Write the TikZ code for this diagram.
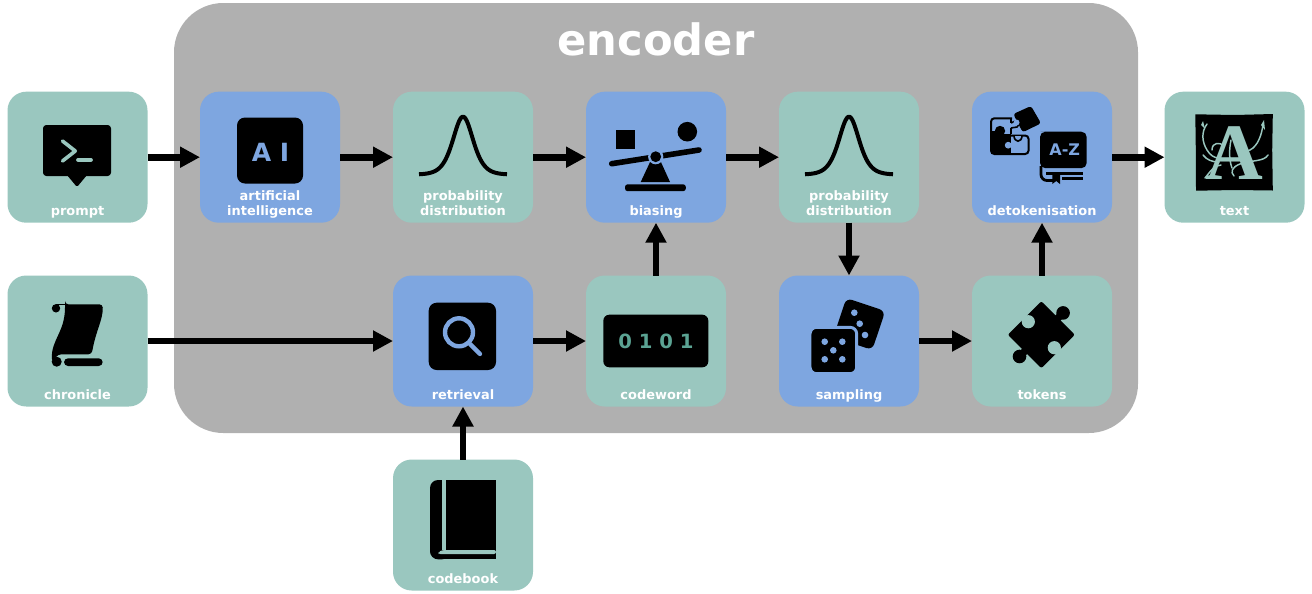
\documentclass[tikz,border=0pt]{standalone}
\usepackage{fontspec}
\setmainfont{DejaVu Sans}
\newfontfamily\serifA{Liberation Serif}
\usetikzlibrary{arrows.meta}
\definecolor{tealbox}{HTML}{9AC7BF}
\definecolor{bluebox}{HTML}{7EA6E0}
\definecolor{greybox}{HTML}{B0B0B0}
\definecolor{tealdark}{HTML}{5BA393}
\tikzset{
  basebox/.style={rectangle,rounded corners=14pt,minimum width=105pt,minimum height=98.25pt,inner sep=0pt,outer sep=0pt},
  tbox/.style={basebox,fill=tealbox},
  bbox/.style={basebox,fill=bluebox},
  lbl/.style={anchor=base,text=white,inner sep=0pt,outer sep=0pt,align=center,font=\fontsize{9.7pt}{11.25pt}\selectfont\bfseries},
  arr/.style={line width=5.1pt,-{Triangle[length=15pt,width=15pt]},black},
  ink/.style={fill=black,draw=none},
}
\begin{document}
\begin{tikzpicture}[x=0.75pt,y=-0.75pt]
\useasboundingbox (0,0) rectangle (1312,593);
% encoder
\node[rectangle,fill=greybox,rounded corners=37pt,minimum width=723pt,minimum height=322.5pt,inner sep=0pt] (encoder) at (656,218) {};
\node[anchor=base,text=white,inner sep=0pt,font=\fontsize{32.4pt}{36pt}\selectfont\bfseries] (encodertitle) at (656,55.5) {encoder};
% boxes
\node[tbox] (prompt) at (77.5,157.2) {};
\node[bbox] (ai) at (270,157.2) {};
\node[tbox] (probA) at (463,157.2) {};
\node[bbox] (biasing) at (656,157.2) {};
\node[tbox] (probB) at (849,157.2) {};
\node[bbox] (detok) at (1042,157.2) {};
\node[tbox] (text) at (1234.5,157.2) {};
\node[tbox] (chronicle) at (77.5,341) {};
\node[bbox] (retrieval) at (463,341) {};
\node[tbox] (codeword) at (656,341) {};
\node[bbox] (sampling) at (849,341) {};
\node[tbox] (tokens) at (1042,341) {};
\node[tbox] (codebook) at (463,525) {};
% labels
\node[lbl] (lprompt) at (77.5,215) {prompt};
\node[lbl] (lai) at (270,215) {artificial\\intelligence};
\node[lbl] (lprobA) at (463,215) {probability\\distribution};
\node[lbl] (lbiasing) at (656,215) {biasing};
\node[lbl] (lprobB) at (849,215) {probability\\distribution};
\node[lbl] (ldetok) at (1042,215) {detokenisation};
\node[lbl] (ltext) at (1234.5,215) {text};
\node[lbl] (lchronicle) at (77.5,399) {chronicle};
\node[lbl] (lretrieval) at (463,399) {retrieval};
\node[lbl] (lcodeword) at (656,399) {codeword};
\node[lbl] (lsampling) at (849,399) {sampling};
\node[lbl] (ltokens) at (1042,399) {tokens};
\node[lbl] (lcodebook) at (463,583) {codebook};
% connectors
\draw[arr] (prompt) -- (ai);
\draw[arr] (ai) -- (probA);
\draw[arr] (probA) -- (biasing);
\draw[arr] (biasing) -- (probB);
\draw[arr] (probB) -- (sampling);
\draw[arr] (sampling) -- (tokens);
\draw[arr] (tokens) -- (detok);
\draw[arr] (detok) -- (text);
\draw[arr] (chronicle) -- (retrieval);
\draw[arr] (retrieval) -- (codeword);
\draw[arr] (codeword) -- (biasing);
\draw[arr] (codebook) -- (retrieval);
% prompt icon
\fill[ink,rounded corners=2.5pt] (43,125) rectangle (111,176);
\fill[ink,rounded corners=1pt] (67,175) -- (87,175) -- (77,187) -- cycle;
\draw[tealbox,line width=2.7pt,line cap=round,line join=round] (62.5,141) -- (75.3,151) -- (62.5,161);
\draw[tealbox,line width=2.8pt,line cap=round] (78,159.8) -- (91,159.8);
% AI icon
\fill[ink,rounded corners=6pt] (237,117.5) rectangle (303,183.5);
\node[anchor=base,text=bluebox,inner sep=0pt,font=\fontsize{18.8pt}{20pt}\selectfont\bfseries] (aiicon) at (270.5,161) {A I};
% gaussians
\foreach \cx in {463,849}{
  \draw[line width=3pt,line join=round] plot[smooth,domain=-44:44,samples=60] ({\cx+\x},{174.6-58*(1/cosh(\x/13.5))^2});
}
% biasing icon
\fill[ink] (615.7,130) rectangle (635.3,149.3);
\fill[ink] (687.3,131.7) circle (9.8);
\draw[line width=4.2pt,line cap=round] (611.7,163.7) -- (699,150);
\fill[ink] (640.7,182) -- (670,182) -- (660,160) -- (651,160) -- cycle;
\fill[bluebox] (655.7,156.7) circle (7.6);
\fill[ink] (655.7,156.7) circle (5.4);
\fill[ink,rounded corners=2pt] (625,191.2) -- (625,184.3) -- (685.8,184.3) -- (685.8,191.2) -- cycle;
% retrieval icon
\fill[ink,rounded corners=6pt] (428.7,302.7) rectangle (496,370);
\draw[bluebox,line width=3.3pt] (459,332.3) circle (14);
\draw[bluebox,line width=3.2pt,line cap=round] (470,344) -- (480,354);
% codeword icon
\fill[ink,rounded corners=4.5pt] (603.3,314.7) rectangle (708.3,367.3);
\node[anchor=base,text=tealdark,inner sep=0pt,font=\fontsize{14.7pt}{16pt}\selectfont\bfseries] (digits) at (656,348.3) {0 1 0 1};
% sampling icon
\begin{scope}[rotate around={-18.5:(859.3,324)}]
\fill[ink,rounded corners=4.5pt] (838.8,303.5) rectangle (879.8,344.5);
\end{scope}
\fill[bluebox] (854.3,312.7) circle (3.3) (859.7,323.7) circle (3.3) (865,335) circle (3.3);
\draw[bluebox,fill=black,line width=2.2pt,rounded corners=5pt] (810,327.3) rectangle (856.7,373.7);
\fill[bluebox] (824.7,341.7) circle (3.3) (842.3,341.7) circle (3.3) (833.3,350.3) circle (3.3) (824.7,359.3) circle (3.3) (842.3,359.3) circle (3.3);
% tokens icon
\begin{scope}[shift={(1041.3,334.7)},rotate=45]
\fill[ink,rounded corners=1.5pt] (-23.7,-23.7) rectangle (23.7,23.7);
\fill[ink] (30.8,0) circle (6.8) (-30.8,0) circle (6.8);
\fill[ink] (22,-3.6) rectangle (27,3.6) (-27,-3.6) rectangle (-22,3.6);
\fill[tealbox] (0,-18.4) circle (6.6) (0,18.4) circle (6.6);
\fill[tealbox] (-3.5,-25) rectangle (3.5,-22) (-3.5,22) rectangle (3.5,25);
\end{scope}
% codebook icon
\fill[ink,rounded corners=6pt] (450,480) -- (430,480) -- (430,559.3) -- (450,559.3) -- cycle;
\fill[ink] (445,480) rectangle (496,559.3);
\fill[tealbox] (442.3,480) rectangle (446,550);
\fill[tealbox,rounded corners=1.5pt] (438.3,554) -- (438.3,552) -- (442.3,550) -- (496,550) -- (496,554) -- cycle;
% chronicle icon
\fill[ink,rounded corners=2.5pt] (65,304.3) -- (102.7,304.3) .. controls (103,320) and (96,330) .. (91.7,354.3) -- (58,354.3) -- (52,362) .. controls (51,340) and (65,332) .. (65,304.3) -- cycle;
\fill[ink] (56,308.3) circle (4.2);
\draw[line width=0.9pt] (56,304.6) -- (66,304.6);
\fill[ink] (56.7,361.7) circle (5);
\fill[ink,rounded corners=3pt] (64,358.3) rectangle (102.7,366);
% detokenisation icon
\draw[line width=1.5pt,rounded corners=2.5pt] (1012,118.3) -- (991,118.3) -- (991,154) -- (1028.5,154) -- (1028.5,135.5) -- (1010.5,135.5);
\fill[ink] (991,134) rectangle (1010.5,154);
\fill[ink] (1000,131) circle (5.2);
\fill[ink] (991,131) rectangle (996,136);
\fill[bluebox] (1008.2,145.2) circle (3.4);
\draw[line width=1.2pt] (1011,118) -- (1011,123) (1011,128) -- (1011,134);
\draw[line width=1.2pt] (1011,123) .. controls (1016,119) and (1022,122) .. (1017,127) -- (1011,128);
\draw[line width=1.2pt,fill=bluebox] (1014,135.5) .. controls (1014,143) and (1022,143) .. (1022,135.5);
\fill[ink,rounded corners=2pt] (1013.3,114) -- (1031,106) -- (1041,123.3) -- (1022.7,132.3) -- cycle;
\fill[bluebox] (1016.5,122.5) circle (3);
\fill[ink,rounded corners=4pt] (1046,131.7) -- (1086.7,131.7) -- (1086.7,168.2) -- (1040,168.2) -- (1040,131.7) -- cycle;
\draw[line width=2.1pt,rounded corners=4.5pt] (1041,166) -- (1041,180.5) -- (1053,180.5);
\draw[line width=2.1pt] (1046,173.2) -- (1083.3,173.2);
\draw[line width=1.7pt] (1062,178.6) -- (1083.3,178.6);
\fill[ink] (1052.3,173) -- (1060,173) -- (1060,184) -- (1056.2,181) -- (1052.3,184) -- cycle;
\node[anchor=base,text=bluebox,inner sep=0pt,font=\fontsize{12pt}{14pt}\selectfont\bfseries] (azicon) at (1064.7,155) {A-Z};
% text icon
\fill[ink] (1195.3,114.3) -- (1235,115) -- (1272.8,114) -- (1272.2,150) -- (1272.8,190.5) -- (1235,190) -- (1196,190.7) -- (1195.8,150) -- cycle;
\node[anchor=base,text=tealbox,inner sep=0pt,font=\fontsize{60pt}{60pt}\selectfont\serifA\bfseries] (aletter) at (1234.5,179.3) {A};
\begin{scope}[tealbox,line width=1.1pt,line cap=round]
\draw (1207,124) .. controls (1201,132) and (1202,142) .. (1207,150) .. controls (1210,155) and (1214,158) .. (1219,158);
\draw (1263,124) .. controls (1262,134) and (1258,146) .. (1250,150) .. controls (1246,152) and (1244,150) .. (1244,146);
\draw (1203,155) .. controls (1207,160) and (1212,162) .. (1219,162);
\draw (1268,155) .. controls (1264,162) and (1250,160) .. (1240,164) .. controls (1232,167) and (1230,172) .. (1234,176);
\draw (1205,178) .. controls (1210,172) and (1214,165) .. (1221,165);
\draw (1212,150) .. controls (1212,142) and (1220,142) .. (1224,146);
\draw (1231,140) .. controls (1229,150) and (1229,160) .. (1232,168);
\end{scope}
\fill[tealbox] (1203,121) -- (1205,129) -- (1201,125) -- cycle;
\fill[tealbox] (1264,120) -- (1265,130) -- (1261,125) -- cycle;
\end{tikzpicture}
\end{document}
